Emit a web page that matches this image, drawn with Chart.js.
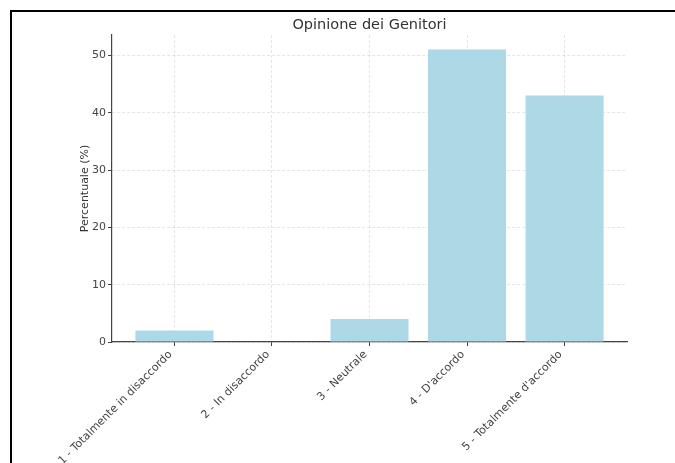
<!DOCTYPE html>
<html><head><meta charset="utf-8">
<script src="https://cdn.jsdelivr.net/npm/chart.js@4"></script>
<style>
html,body{margin:0;padding:0;background:#fff;width:675px;height:463px;overflow:hidden}
#frame{position:absolute;left:10px;top:10px;width:670px;height:460px;border-top:2px solid #000;border-left:2px solid #000;}
#wrap{position:absolute;left:12px;top:12px;width:663px;height:451px}
</style></head><body>
<div id="frame"></div>
<div id="wrap"><canvas id="c"></canvas></div>
<script>
const categories = ["1 - Totalmente in disaccordo", "2 - In disaccordo", "3 - Neutrale", "4 - D'accordo", "5 - Totalmente d'accordo"];
const percentages = [2, 0, 4, 51, 43];
const yTicks = [0, 10, 20, 30, 40, 50];
const yMax = 53.55;
const xMin = -0.64, xMax = 4.64;
const chartTitle = "Opinione dei Genitori";
const yTitle = "Percentuale (%)";

Chart.defaults.font.family = "'DejaVu Sans', sans-serif";
Chart.defaults.color = '#444';

const gridCommon = {color: 'rgba(0,0,0,0.10)', lineWidth: 1, tickColor: '#444', tickLength: 4, drawTicks: true, offset: false};
const borderCommon = {color: '#444', width: 1.2, dash: [3, 2]};

new Chart(document.getElementById('c'), {
  type: 'bar',
  data: {
    datasets: [{
      data: percentages.map((v, i) => ({x: i, y: v})),
      backgroundColor: '#add8e6',
      borderWidth: 0,
      barPercentage: 0.8,
      categoryPercentage: 1.0
    }]
  },
  options: {
    responsive: true,
    maintainAspectRatio: false,
    animation: false,
    layout: {padding: {left: 60, right: 48, top: 0, bottom: 0}},
    plugins: {
      legend: {display: false},
      tooltip: {enabled: false},
      title: {
        display: true, text: chartTitle, fullSize: false,
        color: '#333', font: {size: 14.5, weight: 'normal'},
        padding: {top: 4.6, bottom: 1}
      }
    },
    scales: {
      x: {
        type: 'linear', min: xMin, max: xMax, bounds: 'data', offset: false, z: 1,
        afterBuildTicks: s => { s.ticks = categories.map((_, i) => ({value: i})); },
        afterFit: s => { s.height = 121; s.paddingLeft = 0; s.paddingRight = 0; },
        ticks: {
          autoSkip: false, minRotation: 45, maxRotation: 45, padding: 2, labelOffset: -4,
          font: {size: 11}, color: '#444',
          callback: v => categories[Math.round(v)]
        },
        grid: gridCommon,
        border: borderCommon
      },
      y: {
        min: 0, max: yMax, z: 1,
        afterBuildTicks: s => { s.ticks = yTicks.map(v => ({value: v})); },
        afterFit: s => { s.width = 40; },
        ticks: {font: {size: 11}, color: '#444', padding: 2},
        title: {display: true, text: yTitle, font: {size: 11}, color: '#333', padding: {top: 6.4, bottom: 0}},
        grid: gridCommon,
        border: borderCommon
      }
    }
  }
});
</script>
</body></html>
